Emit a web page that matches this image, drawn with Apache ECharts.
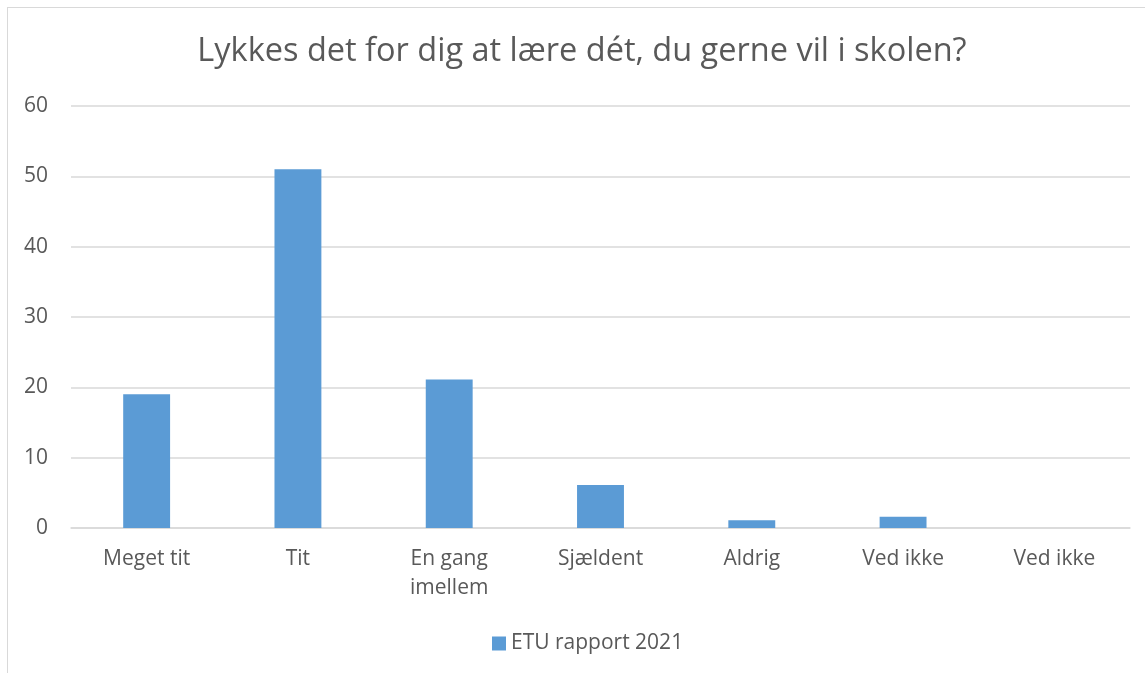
<!DOCTYPE html>
<html>
<head>
<meta charset="utf-8">
<script src="https://cdn.jsdelivr.net/npm/echarts@6/dist/echarts.min.js"></script>
<style>
  html, body { margin: 0; padding: 0; background: #fff; }
  #frame { position: absolute; left: 7px; top: 7px; width: 1200px; height: 700px; border: 1px solid #d9d9d9; box-sizing: border-box; }
  #chart { position: absolute; left: 0; top: 0; width: 1145px; height: 673px; }
</style>
</head>
<body>
<div id="frame"></div>
<div id="chart"></div>
<script>
const categories = ["Meget tit", "Tit", "En gang\nimellem", "Sjældent", "Aldrig", "Ved ikke", "Ved ikke"];
const values = [19, 51, 21.1, 6.1, 1.1, 1.6, 0];
const seriesName = "ETU rapport 2021";

const chart = echarts.init(document.getElementById("chart"));
const font = "'Open Sans', 'Noto Sans', sans-serif";

chart.setOption({
  backgroundColor: "transparent",
  title: {
    text: "Lykkes det for dig at lære dét, du gerne vil i skolen?",
    left: 577,
    textAlign: "center",
    top: 30,
    textStyle: { fontFamily: font, fontSize: 32.5, fontWeight: "normal", color: "#595959" },
  },
  legend: {
    bottom: 19,
    left: 492,
    padding: 0,
    itemWidth: 14,
    itemHeight: 14,
    icon: "rect",
    itemGap: 6,
    textStyle: { fontFamily: font, fontSize: 21, color: "#595959" },
    data: [seriesName],
  },
  grid: { left: 71, right: 15, top: 106, bottom: 145 },
  xAxis: {
    type: "category",
    data: categories,
    axisLine: { lineStyle: { color: "#d9d9d9", width: 1.5 } },
    axisTick: { show: false },
    axisLabel: { fontFamily: font, fontSize: 21, color: "#595959", margin: 17, lineHeight: 29, interval: 0 },
  },
  yAxis: {
    type: "value",
    min: 0,
    max: 60,
    interval: 10,
    axisLine: { show: false },
    axisTick: { show: false },
    axisLabel: { fontFamily: font, fontSize: 21, color: "#595959", margin: 23 },
    splitLine: { lineStyle: { color: "#d9d9d9", width: 1.5 } },
  },
  series: [
    {
      name: seriesName,
      type: "bar",
      data: values,
      barWidth: "31%",
      itemStyle: { color: "#5b9bd5" },
    },
  ],
});
</script>
</body>
</html>
